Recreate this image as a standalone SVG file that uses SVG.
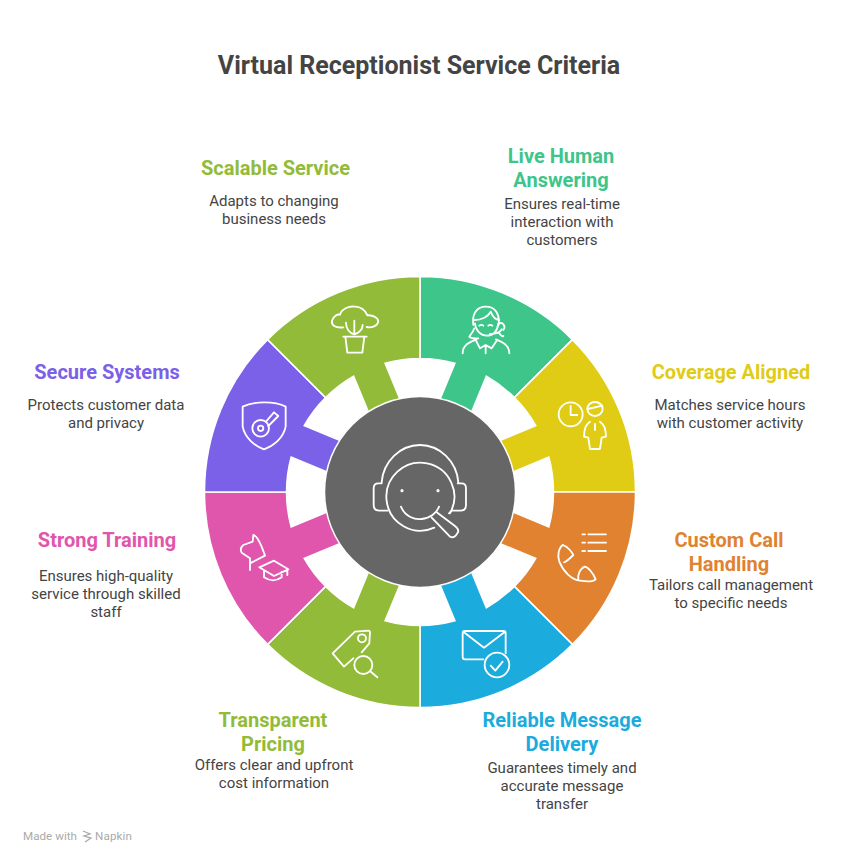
<svg xmlns="http://www.w3.org/2000/svg" width="846" height="864" viewBox="0 0 846 864">
<style>
text{text-anchor:middle;font-family:Roboto,"Liberation Sans",sans-serif}
.t{font-size:25px;font-weight:700;fill:#444}
.h{font-size:20px;font-weight:700}
.b{font-size:15px;fill:#444}
.seg{stroke:#fff;stroke-width:1.5}
.i{fill:none;stroke:#fff;stroke-width:5.5;stroke-linecap:round;stroke-linejoin:round}
.m{font-size:11.6px;fill:#aaa;text-anchor:start}
</style>
<defs>
<path id="seg" d="M0,-215.5A215.5,215.5 0 0 1 152.38,-152.38L94.4,-94.4A133.5,133.5 0 0 0 66.38,-115.81L48.24,-72.02L16.82,-85.04L34.96,-128.83A133.5,133.5 0 0 0 0,-133.5Z"/>
</defs>
<rect width="846" height="864" fill="#fff"/>
<text class="t" x="419" y="74">Virtual Receptionist Service Criteria</text>

<g id="node-live-human">
<use href="#seg" class="seg" fill="#3EC58A" transform="translate(420 492)"/>
<g class="i" transform="translate(420 270) scale(.3333)">
<path d="M160,165C155,125 175,110 197,110C225,110 240,130 236,165M165,160C168,185 185,197 200,197C218,197 232,185 235,160M163,150C185,150 205,140 212,125C218,140 228,150 238,150M163,175C158,190 150,195 148,200C155,208 170,205 175,205M238,190C243,198 248,200 250,198M238,160C250,156 258,170 250,180M245,178C240,188 225,192 210,192M178,167q6,-5 12,0M205,167q6,-5 12,0M128,250C128,225 150,215 170,208M268,250C268,225 245,215 228,208M168,212L180,235L197,225L215,235L230,212M197,228V250"/>
</g>
<text class="h" x="561" y="163" fill="#3EC58A">Live Human</text>
<text class="h" x="561" y="187" fill="#3EC58A">Answering</text>
<text class="b" x="562" y="209">Ensures real-time</text>
<text class="b" x="562" y="227">interaction with</text>
<text class="b" x="562" y="245">customers</text>
</g>

<g id="node-coverage">
<use href="#seg" class="seg" fill="#E0CC15" transform="translate(420 492) rotate(45)"/>
<g class="i" transform="translate(420 270) scale(.3333)">
<circle cx="452" cy="433" r="36"/><path d="M452,408V435H472"/>
<ellipse cx="525" cy="417" rx="23" ry="21"/><path d="M503,417L547,407M525,462V480M510,455C495,465 493,480 492,500L505,503L510,537H540L545,503L558,500C557,480 555,465 540,455"/>
</g>
<text class="h" x="731" y="379" fill="#E0CC15">Coverage Aligned</text>
<text class="b" x="730" y="410">Matches service hours</text>
<text class="b" x="730" y="428">with customer activity</text>
</g>

<g id="node-custom-call">
<use href="#seg" class="seg" fill="#E08230" transform="translate(420 492) rotate(90)"/>
<g class="i" transform="translate(420 490) scale(.3333)">
<path d="M487,133H495M505,133H558M487,158H495M505,158H558M487,183H495M505,183H558"/>
<path d="M428,165C415,175 412,200 418,215C430,245 455,270 480,272C500,275 520,275 527,268C520,250 505,232 495,230C480,235 472,255 475,270M428,165C445,170 458,190 460,195C450,205 440,215 432,217"/>
</g>
<text class="h" x="729" y="547" fill="#E08230">Custom Call</text>
<text class="h" x="729" y="571" fill="#E08230">Handling</text>
<text class="b" x="731" y="590">Tailors call management</text>
<text class="b" x="731" y="608">to specific needs</text>
</g>

<g id="node-reliable-message">
<use href="#seg" class="seg" fill="#1BABDD" transform="translate(420 492) rotate(135)"/>
<g class="i" transform="translate(420 490) scale(.3333)">
<path d="M190,508H135Q128,508 128,500V430Q128,423 135,423H250Q257,423 257,430V490M130,425L192,473L255,425"/>
<circle cx="231" cy="525" r="37"/><path d="M212,527L226,542L248,515"/>
</g>
<text class="h" x="562" y="727" fill="#1BABDD">Reliable Message</text>
<text class="h" x="562" y="751" fill="#1BABDD">Delivery</text>
<text class="b" x="562" y="773">Guarantees timely and</text>
<text class="b" x="562" y="791">accurate message</text>
<text class="b" x="562" y="809">transfer</text>
</g>

<g id="node-transparent-pricing">
<use href="#seg" class="seg" fill="#92BB39" transform="translate(420 492) rotate(180)"/>
<g class="i" transform="translate(200 490) scale(.3333)">
<path d="M460,505L432,530L398,490L465,425L505,422Q510,422 510,427L508,460L485,487"/>
<circle cx="486" cy="445" r="12"/><circle cx="490" cy="525" r="27"/><path d="M510,543L532,562"/>
</g>
<text class="h" x="273" y="727" fill="#92BB39">Transparent</text>
<text class="h" x="273" y="751" fill="#92BB39">Pricing</text>
<text class="b" x="274" y="770">Offers clear and upfront</text>
<text class="b" x="274" y="788">cost information</text>
</g>

<g id="node-strong-training">
<use href="#seg" class="seg" fill="#E056AC" transform="translate(420 492) rotate(225)"/>
<g class="i" transform="translate(200 490) scale(.3333)">
<path d="M150,240V205L125,188Q118,175 130,165L158,155L160,135Q175,138 195,197L150,220"/>
<path d="M178,232L222,212L265,238L222,258ZM192,243V262Q220,280 245,262V245M262,238V255"/>
</g>
<text class="h" x="107" y="547" fill="#E056AC">Strong Training</text>
<text class="b" x="106" y="581">Ensures high-quality</text>
<text class="b" x="106" y="599">service through skilled</text>
<text class="b" x="106" y="617">staff</text>
</g>

<g id="node-secure-systems">
<use href="#seg" class="seg" fill="#7B61E8" transform="translate(420 492) rotate(270)"/>
<g class="i" transform="translate(200 340) scale(.3333)">
<path d="M128,200C160,183 225,183 257,200V260C250,295 220,318 192,328C165,318 135,295 128,260Z"/>
<circle cx="182" cy="265" r="25"/><circle cx="182" cy="265" r="8"/><path d="M198,245L222,217L235,228L205,258"/>
</g>
<text class="h" x="107" y="379" fill="#7B61E8">Secure Systems</text>
<text class="b" x="106" y="410">Protects customer data</text>
<text class="b" x="106" y="428">and privacy</text>
</g>

<g id="node-scalable-service">
<use href="#seg" class="seg" fill="#92BB39" transform="translate(420 492) rotate(315)"/>
<g class="i" transform="translate(260 270) scale(.3333)">
<path d="M250,172C225,175 213,165 216,152C220,138 232,132 240,134C245,115 270,108 283,110C300,108 318,122 322,136C340,134 355,145 355,155C352,168 335,175 320,171"/>
<path d="M250,200H320M256,200L262,248H307L313,200M283,152V193M258,158C258,175 268,190 283,193M308,165C308,180 295,190 283,193"/>
</g>
<text class="h" x="275.5" y="175" fill="#92BB39">Scalable Service</text>
<text class="b" x="274" y="206">Adapts to changing</text>
<text class="b" x="274" y="224">business needs</text>
</g>

<g id="node-center">
<circle cx="420" cy="492" r="95.5" fill="#666" stroke="#fff" stroke-width="1.5"/>
<g class="i" transform="translate(340 420) scale(.3333)">
<path d="M283,323A102,102 0 1 1 330,280M125,187C130,125 180,75 240,75C300,75 350,125 355,187"/>
<path d="M125,190H115Q101,190 101,205V255Q101,272 118,272H143M353,190H365Q378,190 378,205V255Q378,272 362,272H335L327,280"/>
<path d="M183,260C195,290 225,300 245,297C270,295 290,280 297,260M275,293L330,350Q340,355 347,347L355,335Q355,325 345,318L292,278"/>
<circle cx="186" cy="212" r="2"/><circle cx="294" cy="212" r="2"/>
</g>
</g>

<g id="watermark">
<text class="m" x="23" y="840" textLength="54">Made with</text>
<path d="M83,831L90,834L84,836L91,838L85,842" fill="none" stroke="#aaa" stroke-width="1.3"/>
<text class="m" x="95" y="840" textLength="37">Napkin</text>
</g>
</svg>
